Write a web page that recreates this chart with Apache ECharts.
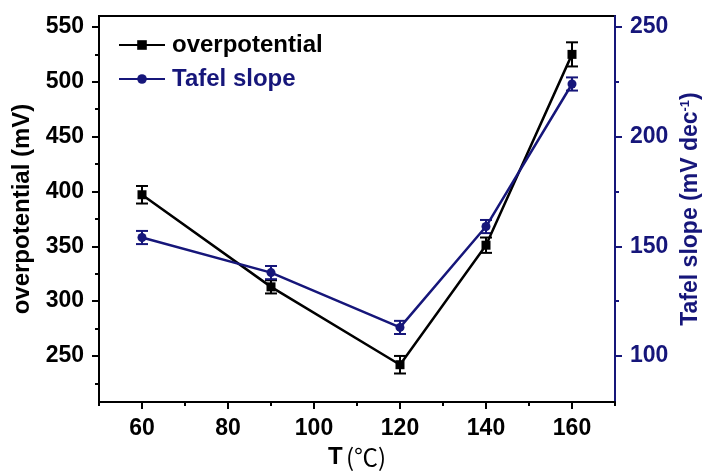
<!DOCTYPE html>
<html>
<head>
<meta charset="utf-8">
<script src="https://cdn.jsdelivr.net/npm/echarts@6/dist/echarts.min.js"></script>
<style>
  html, body { margin: 0; padding: 0; background: #fff; }
  #chart { width: 712px; height: 473px; }
</style>
</head>
<body>
<div id="chart"></div>
<script>
// data
var temps = [60, 90, 120, 140, 160];
var overpotential = [397, 313, 242, 351, 525];
var overpotentialErr = [8, 6, 8, 7, 11];
var tafel = [154, 138, 113, 159, 224];
var tafelErr = [3, 3, 3, 3, 3];

var xMajor = [60, 80, 100, 120, 140, 160];
var xMinor = [50, 70, 90, 110, 130, 150, 170];
var leftMajor = [250, 300, 350, 400, 450, 500, 550];
var leftMinor = [225, 275, 325, 375, 425, 475, 525];
var rightMajor = [100, 150, 200, 250];
var rightMinor = [125, 175, 225];

var NAVY = '#16167a';
var FONT = '"Liberation Sans", Arial, sans-serif';

function pairs(xs, ys) {
  var res = [];
  for (var i = 0; i < xs.length; i++) res.push([xs[i], ys[i]]);
  return res;
}
function errData(xs, ys, es) {
  var res = [];
  for (var i = 0; i < xs.length; i++) res.push([xs[i], ys[i] - es[i], ys[i] + es[i]]);
  return res;
}
function errBar(color) {
  return function (params, api) {
    var top = api.coord([api.value(0), api.value(2)]);
    var bot = api.coord([api.value(0), api.value(1)]);
    var w = 6;
    var st = { stroke: color, lineWidth: 2 };
    return {
      type: 'group',
      children: [
        { type: 'line', shape: { x1: top[0], y1: top[1], x2: bot[0], y2: bot[1] }, style: st },
        { type: 'line', shape: { x1: top[0] - w, y1: top[1], x2: top[0] + w, y2: top[1] }, style: st },
        { type: 'line', shape: { x1: bot[0] - w, y1: bot[1], x2: bot[0] + w, y2: bot[1] }, style: st }
      ]
    };
  };
}

var labelFont = { fontFamily: FONT, fontWeight: 'bold', fontSize: 23 };

var chart = echarts.init(document.getElementById('chart'));
var option = {
  animation: false,
  grid: {
    left: 99, right: 97, top: 16, bottom: 71,
    show: true, borderColor: '#000', borderWidth: 2,
    containLabel: false, outerBoundsMode: 'none'
  },
  legend: {
    orient: 'vertical',
    left: 113, top: 28,
    itemWidth: 46, itemHeight: 12, itemGap: 10,
    data: [
      { name: 'overpotential', textStyle: { color: '#000' } },
      { name: 'Tafel slope', textStyle: { color: NAVY } }
    ],
    textStyle: { fontFamily: FONT, fontWeight: 'bold', fontSize: 24, padding: [0, 0, 0, 2] }
  },
  xAxis: [{
    type: 'value', min: 50, max: 170, position: 'bottom',
    name: '{b|T} {n|(℃)}', nameLocation: 'middle', nameGap: 38,
    nameTextStyle: {
      rich: {
        b: { fontFamily: FONT, fontWeight: 'bold', fontSize: 24, color: '#000' },
        n: { fontFamily: '"Noto Sans CJK SC", ' + FONT, fontSize: 24, color: '#000' }
      }
    },
    axisLine: { lineStyle: { color: '#000', width: 2 } },
    axisTick: { customValues: xMajor, length: 7, lineStyle: { width: 2, color: '#000' } },
    axisLabel: Object.assign({ customValues: xMajor, margin: 15, color: '#000' }, labelFont),
    splitLine: { show: false }
  }, {
    type: 'value', min: 50, max: 170, position: 'bottom',
    axisLine: { show: false },
    axisTick: { customValues: xMinor, length: 4, lineStyle: { width: 2, color: '#000' } },
    axisLabel: { show: false },
    splitLine: { show: false }
  }],
  yAxis: [{
    type: 'value', min: 208, max: 560, position: 'left',
    name: 'overpotential (mV)', nameLocation: 'middle', nameGap: 56, nameRotate: 90,
    nameTextStyle: { fontFamily: FONT, fontWeight: 'bold', fontSize: 24, color: '#000' },
    axisLine: { show: true, lineStyle: { color: '#000', width: 2 } },
    axisTick: { customValues: leftMajor, length: 7, lineStyle: { width: 2, color: '#000' } },
    axisLabel: Object.assign({ customValues: leftMajor, margin: 15, color: '#000' }, labelFont),
    splitLine: { show: false }
  }, {
    type: 'value', min: 79, max: 255, position: 'right',
    name: '{t|Tafel slope (mV dec}{s|-1}{t|)}', nameLocation: 'middle', nameGap: 58, nameRotate: 90,
    nameTextStyle: {
      rich: {
        t: { fontFamily: FONT, fontWeight: 'bold', fontSize: 23, color: NAVY },
        s: { fontFamily: FONT, fontWeight: 'bold', fontSize: 13, color: NAVY, verticalAlign: 'top', padding: [0, 0, 10, 0] }
      }
    },
    axisLine: { show: true, lineStyle: { color: NAVY, width: 2 } },
    axisTick: { customValues: rightMajor, length: 7, lineStyle: { width: 2, color: NAVY } },
    axisLabel: Object.assign({ customValues: rightMajor, margin: 15, color: NAVY }, labelFont),
    splitLine: { show: false }
  }, {
    type: 'value', min: 208, max: 560, position: 'left',
    axisLine: { show: false },
    axisTick: { customValues: leftMinor, length: 4, lineStyle: { width: 2, color: '#000' } },
    axisLabel: { show: false },
    splitLine: { show: false }
  }, {
    type: 'value', min: 79, max: 255, position: 'right',
    axisLine: { show: false },
    axisTick: { customValues: rightMinor, length: 4, lineStyle: { width: 2, color: NAVY } },
    axisLabel: { show: false },
    splitLine: { show: false }
  }],
  series: [{
    name: 'overpotential err', type: 'custom', xAxisIndex: 0, yAxisIndex: 0,
    renderItem: errBar('#000'), data: errData(temps, overpotential, overpotentialErr), z: 3
  }, {
    name: 'Tafel err', type: 'custom', xAxisIndex: 0, yAxisIndex: 1,
    renderItem: errBar(NAVY), data: errData(temps, tafel, tafelErr), z: 3
  }, {
    name: 'overpotential', type: 'line', xAxisIndex: 0, yAxisIndex: 0,
    data: pairs(temps, overpotential),
    symbol: 'rect', symbolSize: 9,
    itemStyle: { color: '#000' },
    lineStyle: { color: '#000', width: 2.5 }, z: 4
  }, {
    name: 'Tafel slope', type: 'line', xAxisIndex: 0, yAxisIndex: 1,
    data: pairs(temps, tafel),
    symbol: 'circle', symbolSize: 9,
    itemStyle: { color: NAVY },
    lineStyle: { color: NAVY, width: 2.5 }, z: 4
  }]
};
chart.setOption(option);
</script>
</body>
</html>
